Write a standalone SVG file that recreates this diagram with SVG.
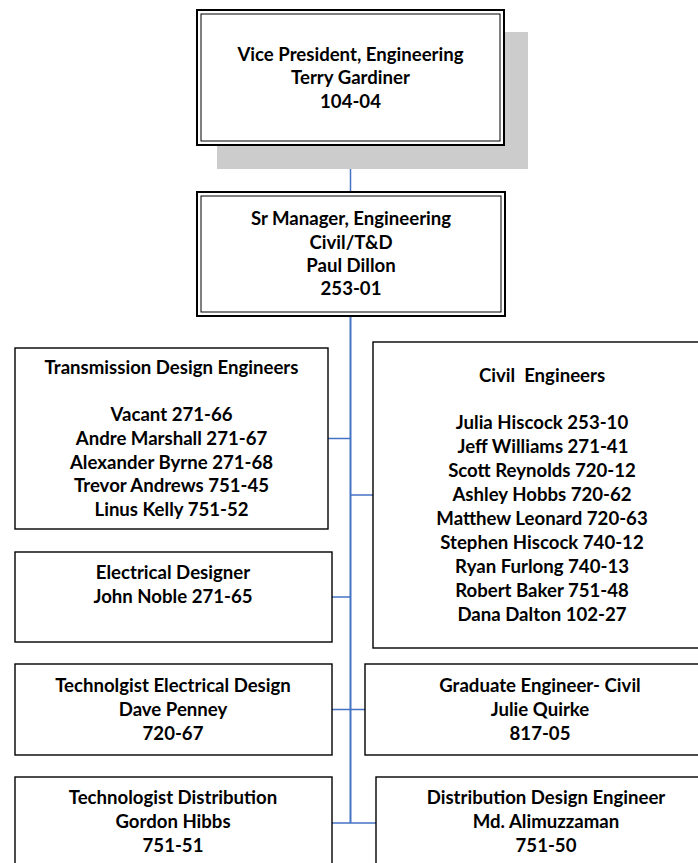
<svg xmlns="http://www.w3.org/2000/svg" width="698" height="863" viewBox="0 0 698 863">
<style>
.t{font-family:Lato,"Liberation Sans",sans-serif;font-weight:700;font-size:18.6px;fill:#000;text-anchor:middle}
.box{fill:#fff;stroke:#000;stroke-width:1.4}
.dbl{fill:none;stroke:#000}
.c{stroke:#4472C4;stroke-width:1.5;fill:none}
</style>
<rect width="698" height="863" fill="#fff"/>
<g id="connectors">
<line class="c" x1="350.5" y1="146" x2="350.5" y2="191"/>
<line class="c" x1="350.5" y1="317" x2="350.5" y2="823" style="stroke-width:2"/>
<line class="c" x1="328" y1="438.5" x2="350.5" y2="438.5"/>
<line class="c" x1="350.5" y1="495" x2="373" y2="495"/>
<line class="c" x1="332" y1="597" x2="350.5" y2="597"/>
<line class="c" x1="332" y1="709.5" x2="365" y2="709.5"/>
<line class="c" x1="332" y1="823" x2="376" y2="823"/>
</g>
<g id="vp">
<rect x="217" y="32" width="311" height="137" fill="#cccccc"/>
<rect x="197" y="10" width="307" height="135" fill="#fff" stroke="#000" stroke-width="2"/>
<rect class="dbl" x="201" y="14" width="299" height="127" stroke-width="1"/>
<text class="t" x="350.5" y="61">Vice President, Engineering</text>
<text class="t" x="350.5" y="84.3">Terry Gardiner</text>
<text class="t" x="350.5" y="107.6">104-04</text>
</g>
<g id="srmgr">
<rect x="197" y="192" width="308" height="124" fill="#fff" stroke="#000" stroke-width="2"/>
<rect class="dbl" x="201" y="196" width="300" height="116" stroke-width="1"/>
<text class="t" x="351" y="225.3">Sr Manager, Engineering</text>
<text class="t" x="351" y="248.6">Civil/T&amp;D</text>
<text class="t" x="351" y="272">Paul Dillon</text>
<text class="t" x="351" y="295.3">253-01</text>
</g>
<g id="transmission">
<rect class="box" x="15" y="348" width="313" height="181"/>
<text class="t" x="171.5" y="373.5">Transmission Design Engineers</text>
<text class="t" x="171.5" y="421">Vacant 271-66</text>
<text class="t" x="171.5" y="444.7">Andre Marshall 271-67</text>
<text class="t" x="171.5" y="468.5">Alexander Byrne 271-68</text>
<text class="t" x="171.5" y="492.4">Trevor Andrews 751-45</text>
<text class="t" x="171.5" y="516.2">Linus Kelly 751-52</text>
</g>
<g id="civil">
<rect class="box" x="373" y="342" width="340" height="306"/>
<text class="t" x="542" y="382" xml:space="preserve">Civil  Engineers</text>
<text class="t" x="542" y="429.3">Julia Hiscock 253-10</text>
<text class="t" x="543" y="453.2">Jeff Williams 271-41</text>
<text class="t" x="542" y="477.1">Scott Reynolds 720-12</text>
<text class="t" x="542" y="501">Ashley Hobbs 720-62</text>
<text class="t" x="542" y="524.9">Matthew Leonard 720-63</text>
<text class="t" x="542" y="548.8">Stephen Hiscock 740-12</text>
<text class="t" x="542" y="572.7">Ryan Furlong 740-13</text>
<text class="t" x="542" y="596.6">Robert Baker 751-48</text>
<text class="t" x="542" y="620.5">Dana Dalton 102-27</text>
</g>
<g id="electrical">
<rect class="box" x="15" y="552" width="317" height="90"/>
<text class="t" x="173" y="579.3">Electrical Designer</text>
<text class="t" x="173" y="603.3">John Noble 271-65</text>
</g>
<g id="techelec">
<rect class="box" x="15" y="664" width="317" height="91"/>
<text class="t" x="173" y="692">Technolgist Electrical Design</text>
<text class="t" x="173" y="715.9">Dave Penney</text>
<text class="t" x="173" y="739.5">720-67</text>
</g>
<g id="graduate">
<rect class="box" x="365" y="664" width="350" height="91"/>
<text class="t" x="540" y="692">Graduate Engineer- Civil</text>
<text class="t" x="540" y="715.9">Julie Quirke</text>
<text class="t" x="540" y="739.5">817-05</text>
</g>
<g id="techdist">
<rect class="box" x="15" y="777" width="317" height="100"/>
<text class="t" x="173" y="803.5">Technologist Distribution</text>
<text class="t" x="173" y="827.5">Gordon Hibbs</text>
<text class="t" x="173" y="851.9">751-51</text>
</g>
<g id="distdesign">
<rect class="box" x="376" y="777" width="340" height="100"/>
<text class="t" x="546" y="803.5">Distribution Design Engineer</text>
<text class="t" x="546" y="827.5">Md. Alimuzzaman</text>
<text class="t" x="546" y="851.9">751-50</text>
</g>
</svg>
